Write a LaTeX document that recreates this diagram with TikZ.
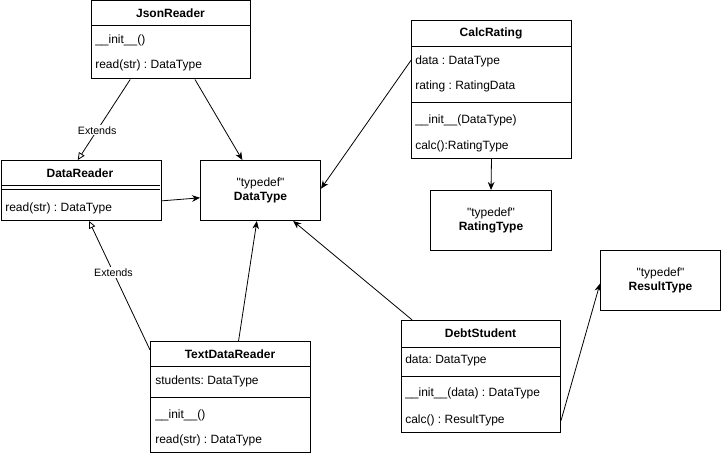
\documentclass[tikz,border=0pt]{standalone}
\usepackage{fontspec}
\setmainfont{Liberation Sans}
\usetikzlibrary{calc,arrows.meta}
\frenchspacing

\tikzset{
  box/.style = {draw, anchor = north west, inner sep = 0pt, line width = 0.75pt},
  tdef/.style = {box, align = center, font = \fontsize{9}{10.5}\selectfont},
  row/.style = {anchor = west, inner sep = 0pt},
  title/.style = {inner sep = 0pt, font = \fontsize{9}{11}\selectfont\bfseries},
  sep/.style = {line width = 0.75pt},
  assoc/.style = {-{Stealth[length = 6pt, width = 5pt]}, line width = 0.6pt},
  extends/.style = {-{Triangle[open, length = 5.5pt, width = 5pt]}, line width = 0.6pt},
  lbl/.style = {fill = white, inner sep = 1pt, font = \fontsize{8}{9.5}\selectfont}
}

\begin{document}
\begin{tikzpicture}[x = 0.75pt, y = -0.75pt, font = \fontsize{9}{11}\selectfont]
\useasboundingbox (0,0) rectangle (721,456);

% JsonReader
\node [box, minimum width = 119.25pt, minimum height = 58.5pt] (json) at (91,0.5) {};
\node [title] (jsonT) at (170.5,13) {JsonReader};
\draw [sep] (91,26) -- (250,26);
\node [row] (jsonR1) at (95,40) {\_\_init\_\_()};
\node [row] (jsonR2) at (95,65) {read(str) : DataType};

% DataReader
\node [box, minimum width = 120pt, minimum height = 45pt] (dreader) at (0.5,160) {};
\node [title] (dreaderT) at (80,173) {DataReader};
\draw [sep] (0.5,186) -- (160,186);
\draw [sep] (0.5,190) -- (160,190);
\node [row] (dreaderR1) at (5,208) {read(str) : DataType};

% typedefs
\node [tdef, minimum width = 90pt, minimum height = 45pt] (dtype) at (200,160) {\textquotedbl typedef\textquotedbl\\\textbf{DataType}};
\node [tdef, minimum width = 90.75pt, minimum height = 45pt] (rtype) at (430,190) {\textquotedbl typedef\textquotedbl\\\textbf{RatingType}};
\node [tdef, minimum width = 90pt, minimum height = 45pt] (restype) at (600,250) {\textquotedbl typedef\textquotedbl\\\textbf{ResultType}};

% CalcRating
\node [box, minimum width = 120pt, minimum height = 103.5pt] (calc) at (411,20) {};
\node [title] (calcT) at (491,33) {CalcRating};
\draw [sep] (411,47) -- (571,47);
\node [row] (calcR1) at (415,61) {data : DataType};
\node [row] (calcR2) at (415,86) {rating : RatingData};
\draw [sep] (411,103) -- (571,103);
\node [row] (calcR3) at (415,120) {\_\_init\_\_(DataType)};
\node [row] (calcR4) at (415,146) {calc():RatingType};

% TextDataReader
\node [box, minimum width = 120pt, minimum height = 83.25pt] (tdr) at (150,341) {};
\node [title] (tdrT) at (230,354) {TextDataReader};
\draw [sep] (150,366) -- (310,366);
\node [row] (tdrR1) at (155,381) {students: DataType};
\draw [sep] (150,397) -- (310,397);
\node [row] (tdrR2) at (155,415) {\_\_init\_\_()};
\node [row] (tdrR3) at (155,440) {read(str) : DataType};

% DebtStudent
\node [box, minimum width = 119.25pt, minimum height = 84pt] (debt) at (401,320) {};
\node [title] (debtT) at (480.5,333) {DebtStudent};
\draw [sep] (401,347) -- (560,347);
\node [row] (debtR1) at (405,360) {data: DataType};
\draw [sep] (401,376) -- (560,376);
\node [row] (debtR2) at (405,393) {\_\_init\_\_(data) : DataType};
\node [row] (debtR3) at (405,420) {calc() : ResultType};

% connectors
\draw [extends] ($(json.south west)!0.245!(json.south east)$) -- ($(dreader.north west)!0.48!(dreader.north east)$)
  node [lbl, pos = 0.63] {Extends};
\draw [assoc] ($(json.south west)!0.65!(json.south east)$) -- ($(dtype.north west)!0.35!(dtype.north east)$);
\draw [assoc] ($(dreader.north east)!0.67!(dreader.south east)$) -- ($(dtype.north west)!0.62!(dtype.south west)$);
\draw [assoc] ($(calc.north west)!0.29!(calc.south west)$) -- ($(dtype.north east)!0.47!(dtype.south east)$);
\draw [assoc] (calc.south) -- (rtype.north);
\draw [extends] ($(tdr.north west)!0.08!(tdr.south west)$) -- ($(dreader.south west)!0.55!(dreader.south east)$)
  node [lbl, pos = 0.6] {Extends};
\draw [assoc] ($(tdr.north west)!0.55!(tdr.north east)$) -- ($(dtype.south west)!0.47!(dtype.south east)$);
\draw [assoc] ($(debt.north west)!0.07!(debt.north east)$) -- ($(dtype.south west)!0.77!(dtype.south east)$);
\draw [assoc] ($(debt.north east)!0.89!(debt.south east)$) -- ($(restype.north west)!0.55!(restype.south west)$);

\end{tikzpicture}
\end{document}
